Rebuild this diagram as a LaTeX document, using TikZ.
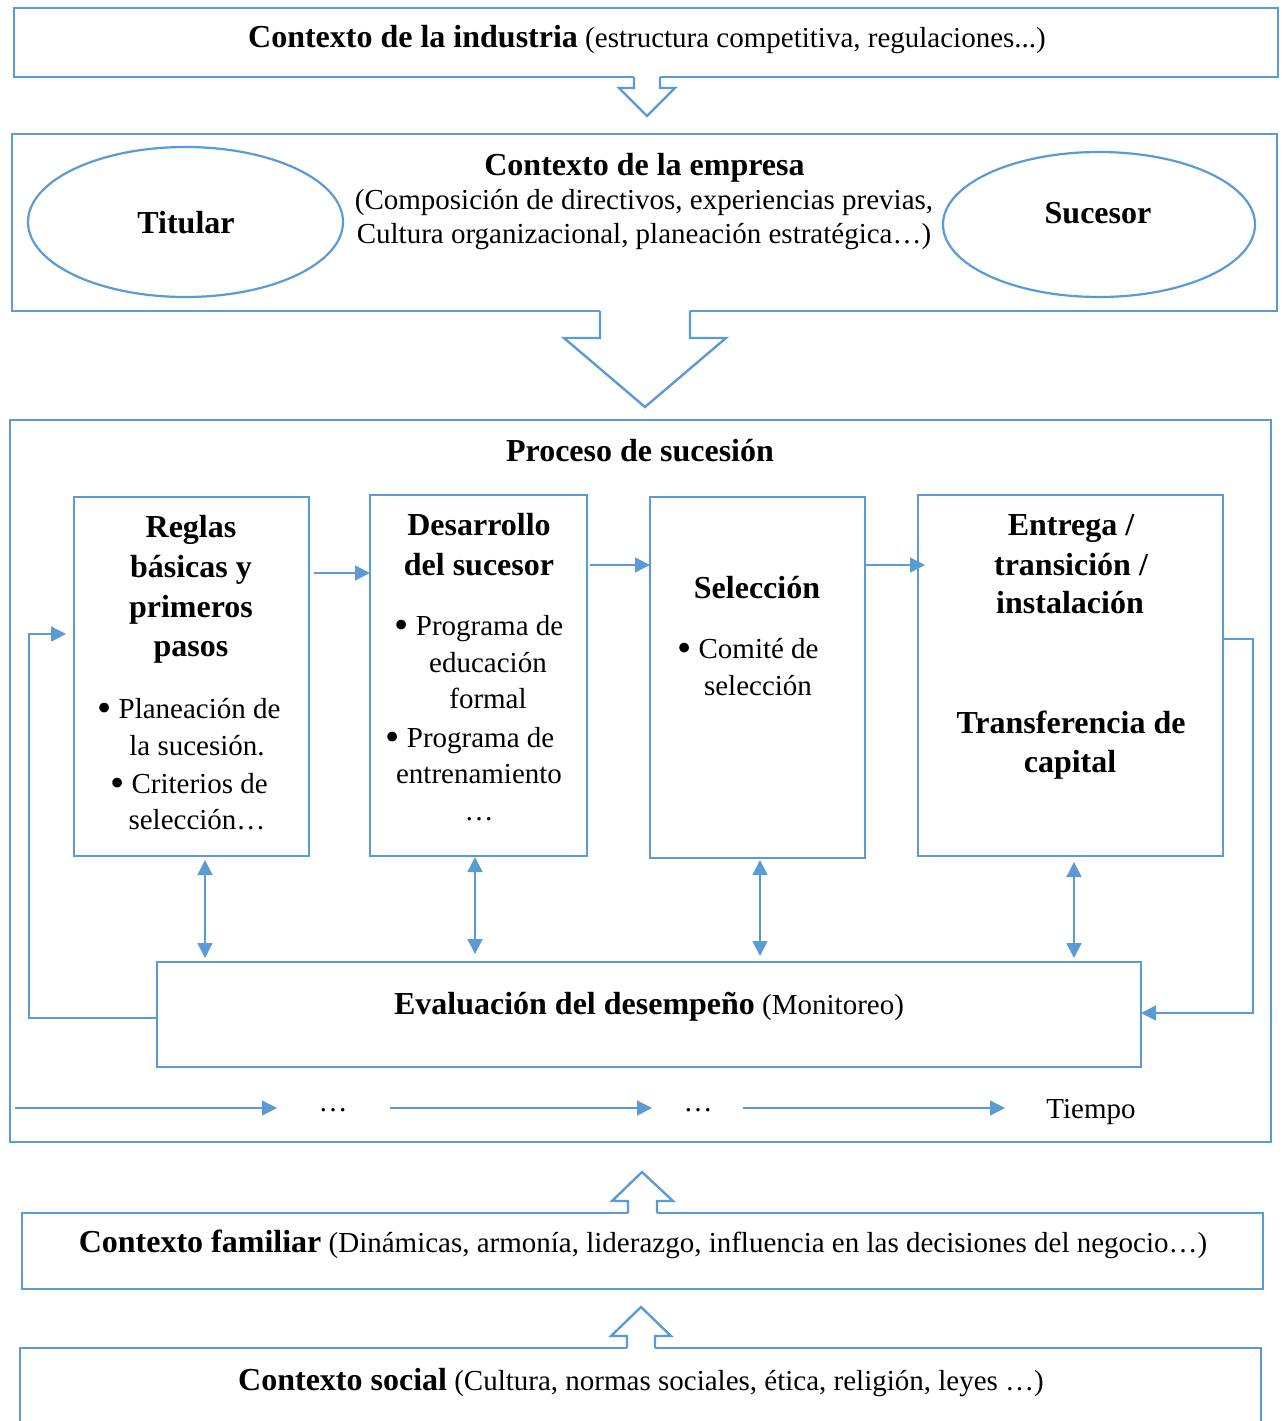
\documentclass[tikz,border=0pt]{standalone}
\usepackage{fontspec}
\setmainfont{Liberation Serif}
\usetikzlibrary{arrows.meta,shapes.geometric}
\definecolor{ob}{RGB}{91,155,213}
\newcommand\HB{\fontsize{32}{38}\selectfont\bfseries}
\newcommand\TR{\fontsize{29}{35}\selectfont}
\newcommand\bul{\raisebox{-3.5pt}{\scalebox{1.4}{•}}\hspace{7pt}}
\begin{document}
\begin{tikzpicture}[x=1pt,y=-1pt,
 box/.style={draw=ob,line width=2.6pt,rectangle,inner sep=0pt,outer sep=0pt},
 oval/.style={draw=ob,line width=2.2pt,ellipse,inner sep=0pt,outer sep=0pt},
 conn/.style={draw=ob,line width=1.4pt,-{Triangle[length=15pt,width=15pt]}},
 dconn/.style={draw=ob,line width=1.4pt,{Triangle[length=15pt,width=15pt]}-{Triangle[length=15pt,width=15pt]}},
 hollow/.style={draw=ob,line width=2.4pt,fill=white,line join=miter},
 txt/.style={anchor=base,inner sep=0pt,font=\TR},
 ttl/.style={anchor=base,inner sep=0pt,font=\HB}]
\clip (0,0) rectangle (1286,1421);
\fill[white] (0,0) rectangle (1286,1421);

% ---------- boxes ----------
\node[box,minimum width=1264pt,minimum height=69pt] (ind) at (646,42.5) {};
\node[box,minimum width=1265pt,minimum height=177pt] (emp) at (644.5,222.5) {};
\node[box,minimum width=1261pt,minimum height=722pt] (proc) at (640.5,781) {};
\node[box,minimum width=1241pt,minimum height=76pt] (fam) at (642.5,1251) {};
\node[box,minimum width=1241pt,minimum height=110pt] (soc) at (640.5,1403) {};

\node[oval,minimum width=315pt,minimum height=150pt] (tit) at (185.5,222) {};
\node[oval,minimum width=312pt,minimum height=145pt] (suc) at (1099,224.5) {};

\node[box,minimum width=235pt,minimum height=359pt] (b1) at (191.5,676.5) {};
\node[box,minimum width=217pt,minimum height=361pt] (b2) at (478.5,675.5) {};
\node[box,minimum width=215pt,minimum height=361pt] (b3) at (757.5,677.5) {};
\node[box,minimum width=305pt,minimum height=361pt] (b4) at (1070.5,675.5) {};
\node[box,minimum width=984pt,minimum height=105pt] (ev) at (649,1014.5) {};

% ---------- hollow block arrows ----------
\fill[white] (634,74) rectangle (660,80);
\draw[hollow] (634,77) -- (634,88) -- (619,88) -- (647,116) -- (675,88) -- (660,88) -- (660,77);
\fill[white] (600,308) rectangle (690,314);
\draw[hollow] (600,311) -- (600,338) -- (564,338) -- (645,407) -- (726,338) -- (690,338) -- (690,311);
\fill[white] (628,1210) rectangle (657,1216);
\draw[hollow] (628,1213) -- (628,1201) -- (612,1201) -- (642,1172) -- (673,1201) -- (657,1201) -- (657,1213);
\fill[white] (627,1345) rectangle (655,1351);
\draw[hollow] (627,1348) -- (627,1336) -- (611,1336) -- (641,1307) -- (671,1336) -- (655,1336) -- (655,1348);

% ---------- texts ----------
\node[txt] (indt) at (647,48) {{\HB Contexto de la industria} (estructura competitiva, regulaciones...)};
\node[ttl] (empt) at (644.5,175) {Contexto de la empresa};
\node[txt] (emp1) at (644,209) {(Composición de directivos, experiencias previas,};
\node[txt] (emp2) at (644,243) {Cultura organizacional, planeación estratégica…)};
\node[ttl] (titt) at (186,233) {Titular};
\node[ttl] (suct) at (1098,223) {Sucesor};
\node[ttl] (proct) at (640,461) {Proceso de sucesión};

\node[ttl] (r1) at (191,537) {Reglas};
\node[ttl] (r2) at (191,577) {básicas y};
\node[ttl] (r3) at (191,617) {primeros};
\node[ttl] (r4) at (191,656) {pasos};
\node[txt] (r5) at (189,718) {\bul Planeación de};
\node[txt] (r6) at (197,755) {la sucesión.};
\node[txt] (r7) at (189,793) {\bul Criterios de};
\node[txt] (r8) at (197,829) {selección…};

\node[ttl] (d1) at (479,535) {Desarrollo};
\node[ttl] (d2) at (479,575) {del sucesor};
\node[txt] (d3) at (479,635) {\bul Programa de};
\node[txt] (d4) at (488,672) {educación};
\node[txt] (d5) at (488,708) {formal};
\node[txt] (d6) at (470,747) {\bul Programa de};
\node[txt] (d7) at (479,783) {entrenamiento};
\node[txt] (d8) at (479,820) {…};

\node[ttl] (s1) at (757,598) {Selección};
\node[txt] (s2) at (748,658) {\bul Comité de};
\node[txt] (s3) at (758,695) {selección};

\node[ttl] (e1) at (1071,535) {Entrega /};
\node[ttl] (e2) at (1071,575) {transición /};
\node[ttl] (e3) at (1070,613) {instalación};
\node[ttl] (e4) at (1071,733) {Transferencia de};
\node[ttl] (e5) at (1070,772) {capital};

\node[txt] (evt) at (649,1014) {{\HB Evaluación del desempeño} (Monitoreo)};

\node[txt] (dots1) at (333,1111) {…};
\node[txt] (dots2) at (698,1111) {…};
\node[txt] (tiem) at (1091,1118) {Tiempo};

\node[txt] (famt) at (643,1252) {{\HB Contexto familiar} (Dinámicas, armonía, liderazgo, influencia en las decisiones del negocio…)};
\node[txt] (soct) at (641,1390) {{\HB Contexto social} (Cultura, normas sociales, ética, religión, leyes …)};

% ---------- connectors ----------
\coordinate (a12) at (314,573);
\coordinate (a23) at (590,565);
\coordinate (a34) at (866,565);
\draw[conn] (a12) -- (b2.west |- a12);
\draw[conn] (a23) -- (b3.west |- a23);
\draw[conn,shorten >=-7pt] (a34) -- (b4.west |- a34);

\draw[dconn,shorten <=4pt,shorten >=4pt] (b1.south -| 205,0) -- (ev.north -| 205,0);
\draw[dconn,shorten <=1pt,shorten >=8pt] (b2.south -| 475,0) -- (ev.north -| 475,0);
\draw[dconn,shorten <=2pt,shorten >=6pt] (b3.south -| 760,0) -- (ev.north -| 760,0);
\draw[dconn,shorten <=6pt,shorten >=4pt] (b4.south -| 1074,0) -- (ev.north -| 1074,0);

\coordinate (lc1) at (29,1018);
\coordinate (lc2) at (29,634);
\draw[conn,shorten >=8pt] (ev.west |- lc1) -- (lc1) -- (lc2) -- (b1.west |- lc2);
\coordinate (rc1) at (1253,639);
\coordinate (rc2) at (1253,1013);
\draw[conn] (b4.east |- rc1) -- (rc1) -- (rc2) -- (ev.east |- rc2);

\coordinate (t1s) at (15,1108);
\coordinate (t1e) at (277,1108);
\coordinate (t2s) at (390,1108);
\coordinate (t2e) at (652,1108);
\coordinate (t3s) at (743,1108);
\coordinate (t3e) at (1005,1108);
\draw[conn] (t1s) -- (t1e);
\draw[conn] (t2s) -- (t2e);
\draw[conn] (t3s) -- (t3e);
\end{tikzpicture}
\end{document}
